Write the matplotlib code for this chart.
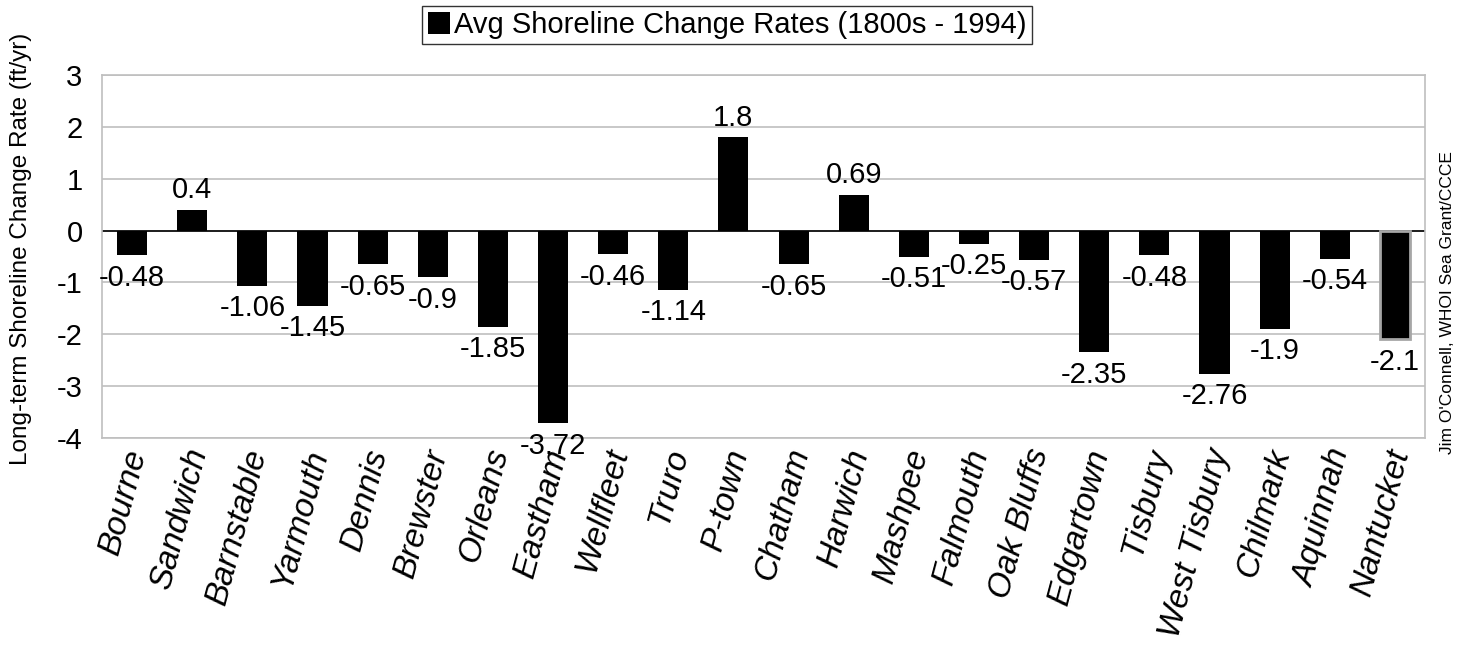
import matplotlib.pyplot as plt
import matplotlib.transforms as mtransforms

plt.rcParams['font.family'] = ['Liberation Sans', 'DejaVu Sans']

towns = ['Bourne', 'Sandwich', 'Barnstable', 'Yarmouth', 'Dennis', 'Brewster',
         'Orleans', 'Eastham', 'Wellfleet', 'Truro', 'P-town', 'Chatham',
         'Harwich', 'Mashpee', 'Falmouth', 'Oak Bluffs', 'Edgartown', 'Tisbury',
         'West Tisbury', 'Chilmark', 'Aquinnah', 'Nantucket']
rates = [-0.48, 0.4, -1.06, -1.45, -0.65, -0.9, -1.85, -3.72, -0.46, -1.14,
         1.8, -0.65, 0.69, -0.51, -0.25, -0.57, -2.35, -0.48, -2.76, -1.9,
         -0.54, -2.1]
rate_labels = ['-0.48', '0.4', '-1.06', '-1.45', '-0.65', '-0.9', '-1.85', '-3.72',
               '-0.46', '-1.14', '1.8', '-0.65', '0.69', '-0.51', '-0.25', '-0.57',
               '-2.35', '-0.48', '-2.76', '-1.9', '-0.54', '-2.1']
yticks = [3, 2, 1, 0, -1, -2, -3, -4]

fig = plt.figure(figsize=(14.63, 6.52), dpi=100)
ax = fig.add_axes([102 / 1463, 1 - 438 / 652, 1323 / 1463, 363 / 652])

x = range(len(towns))
bars = ax.bar(x, rates, width=0.5, color='black', zorder=3,
              label='Avg Shoreline Change Rates (1800s - 1994)')
# last bar is outlined in grey in the original
bars[-1].set_edgecolor('#a6a6a6')
bars[-1].set_linewidth(2)

for i, (v, lab) in enumerate(zip(rates, rate_labels)):
    off = 4 if v > 0 else -6
    ax.annotate(lab, (i, v), xytext=(0, off), textcoords='offset points',
                ha='center', va='bottom' if v > 0 else 'top', fontsize=21, zorder=4)

ax.set_xlim(-0.5, len(towns) - 0.5)
ax.set_ylim(-4, 3)
ax.set_yticks(yticks)
ax.set_yticklabels([str(t) for t in yticks], fontsize=21)
ax.tick_params(axis='y', length=0, pad=14)
ax.tick_params(axis='x', length=0, pad=8)
ax.set_xticks(list(x))
ax.set_xticklabels(towns, rotation=75, ha='right', va='center', rotation_mode='anchor',
                   fontsize=24, style='italic')
shift = mtransforms.ScaledTranslation(6 / 100, 0, fig.dpi_scale_trans)
for lab in ax.get_xticklabels():
    lab.set_transform(lab.get_transform() + shift)

ax.grid(axis='y', color='#bfbfbf', linewidth=1.2, zorder=0)
ax.axhline(0, color='black', linewidth=1.2, zorder=2)
for s in ax.spines.values():
    s.set_color('#bfbfbf')
    s.set_linewidth(1.2)

ax.set_ylabel('Long-term Shoreline Change Rate (ft/yr)', fontsize=17.5)
ax.yaxis.set_label_coords(-70 / 1323, 0.52)

fig.legend(loc='upper center', bbox_to_anchor=(727 / 1463, 1.0), fontsize=21,
           frameon=True, fancybox=False, edgecolor='black', handlelength=0.75,
           handleheight=0.75, handletextpad=0.15, borderpad=0.18, borderaxespad=0.2)

fig.text(1447 / 1463, 1 - 303 / 652, "Jim O'Connell, WHOI Sea Grant/CCCE", rotation=90,
         ha='center', va='center', fontsize=12.5,
         family=['Liberation Sans Narrow', 'Liberation Sans'])

fig.savefig('out.png', dpi=100)
